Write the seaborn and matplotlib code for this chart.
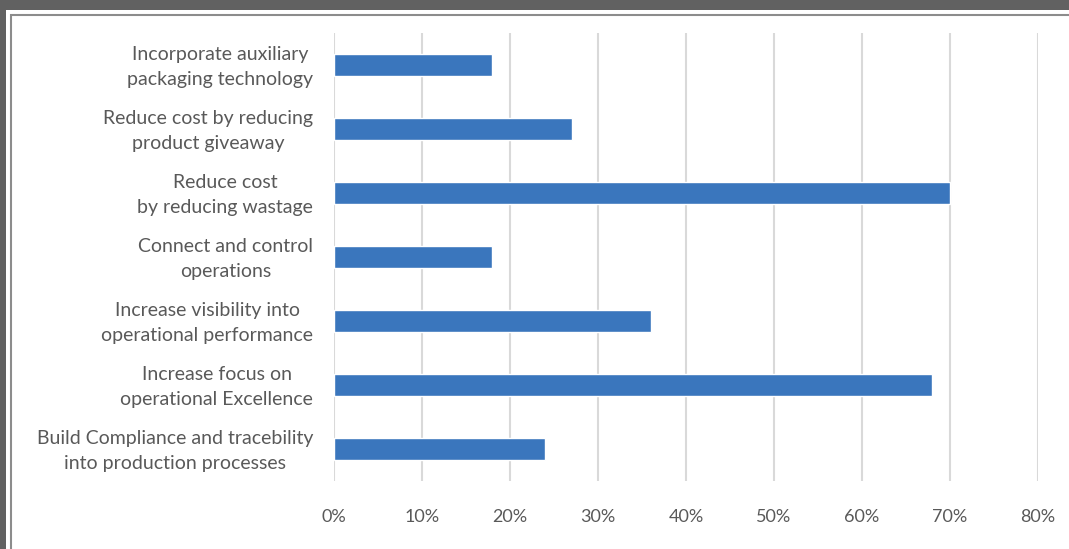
import matplotlib
matplotlib.use("Agg")
import matplotlib.pyplot as plt
from matplotlib.patches import Rectangle
from matplotlib.ticker import PercentFormatter
from matplotlib.transforms import ScaledTranslation
import seaborn as sns
import pandas as pd

# Survey priorities (share of respondents, %)
categories = [
    "Incorporate auxiliary\npackaging technology",
    "Reduce cost by reducing\nproduct giveaway",
    "Reduce cost\nby reducing wastage",
    "Connect and control\noperations",
    "Increase visibility into\noperational performance",
    "Increase focus on\noperational Excellence",
    "Build Compliance and tracebility\ninto production processes",
]
values = [18, 27, 70, 18, 36, 68, 24]
x_ticks = [0, 10, 20, 30, 40, 50, 60, 70, 80]

df = pd.DataFrame({"category": categories, "value": values})

sns.set_theme(style="white")
plt.rcParams["font.family"] = ["Lato", "DejaVu Sans"]

W, H = 1069, 549
fig = plt.figure(figsize=(W / 100, H / 100), dpi=100, facecolor="#616161")

# Framed white panel behind the chart
fig.patches.append(Rectangle((6 / W, 0), 1, 1 - 10 / H, transform=fig.transFigure,
                             facecolor="white", edgecolor="none", zorder=-2))
fig.patches.append(Rectangle((10.5 / W, -0.02), 1, 1 + 0.02 - 15 / H, transform=fig.transFigure,
                             facecolor="white", edgecolor="#8c8c8c", linewidth=1.5, zorder=-1))

ax = fig.add_axes([334 / W, 1 - 481 / H, (1038 - 334) / W, (481 - 33) / H])
ax.set_facecolor("none")

sns.barplot(data=df, x="value", y="category", orient="h", color="#3A76BD",
            saturation=1, width=0.34, ax=ax, zorder=3)

ax.set_xlim(0, 80)
ax.set_ylim(6.5, -0.5)
ax.set_xticks(x_ticks)
ax.xaxis.set_major_formatter(PercentFormatter(decimals=0))
ax.grid(axis="x", color="#d9d9d9", linewidth=1.5, zorder=0)
ax.set_axisbelow(True)
for s in ax.spines.values():
    s.set_visible(False)
ax.set_xlabel("")
ax.set_ylabel("")
ax.tick_params(axis="both", length=0, colors="#595959")
ax.tick_params(axis="x", pad=20, labelsize=13)
ax.tick_params(axis="y", pad=15, labelsize=14)
lift = ScaledTranslation(0, 4 / 100, fig.dpi_scale_trans)
for lbl in ax.get_yticklabels():
    lbl.set_multialignment("center")
    lbl.set_linespacing(1.6)
    lbl.set_transform(lbl.get_transform() + lift)

fig.savefig("out.png", dpi=100, facecolor=fig.get_facecolor())
